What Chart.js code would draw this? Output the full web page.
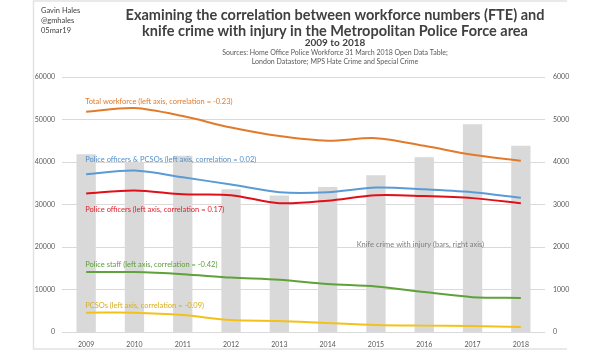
<!DOCTYPE html>
<html>
<head>
<meta charset="utf-8">
<script src="https://cdn.jsdelivr.net/npm/chart.js@4"></script>
<style>
  body { margin: 0; background: #fff; }
  #wrap { width: 600px; height: 350px; }
</style>
</head>
<body>
<div id="wrap"><canvas id="myChart" width="600" height="350"></canvas></div>
<script>
var years = ['2009', '2010', '2011', '2012', '2013', '2014', '2015', '2016', '2017', '2018'];
var knifeCrime = [4180, 4000, 4150, 3360, 3210, 3410, 3690, 4110, 4890, 4380];
var totalWorkforce = [51800, 52700, 50800, 48100, 46100, 45000, 45600, 43800, 41700, 40300];
var officersPcsos = [37100, 38000, 36400, 34700, 32900, 32900, 34000, 33600, 32900, 31600];
var officers = [32600, 33300, 32400, 32200, 30300, 30900, 32200, 32000, 31500, 30300];
var staff = [14100, 14100, 13600, 12800, 12300, 11300, 10700, 9400, 8200, 8000];
var pcsos = [4550, 4550, 4000, 2800, 2600, 2100, 1650, 1500, 1400, 1200];
var leftTicks = [0, 10000, 20000, 30000, 40000, 50000, 60000];
var rightTicks = [0, 1000, 2000, 3000, 4000, 5000, 6000];

var fontFam = "Lato, 'Open Sans', sans-serif";

// series labels drawn next to the lines (year index, left-axis value)
var seriesLabels = [
  { text: 'Total workforce (left axis, correlation = -0.23)', color: '#E27A2B', at: 0, val: 54300 },
  { text: 'Police officers & PCSOs (left axis, correlation = 0.02)', color: '#4F8FCB', at: 0, val: 40500 },
  { text: 'Police officers (left axis, correlation = 0.17)', color: '#E0202A', at: 0, val: 28700 },
  { text: 'Police staff (left axis, correlation = -0.42)', color: '#5C9E3A', at: 0, val: 15800 },
  { text: 'PCSOs (left axis, correlation = -0.09)', color: '#D9AE1A', at: 0, val: 6300 }
];

var textPlugin = {
  id: 'texts',
  afterDraw: function(chart) {
    var c = chart.ctx;
    c.save();
    // frame
    c.strokeStyle = '#e2e2e2';
    c.lineWidth = 1.5;
    c.beginPath();
    c.moveTo(567, 1); c.lineTo(33.5, 1); c.lineTo(33.5, 349); c.lineTo(567, 349);
    c.stroke();

    c.fillStyle = '#404040';
    c.textBaseline = 'middle';
    c.textAlign = 'left';
    c.font = '7.5px ' + fontFam;
    c.fillText('Gavin Hales', 41, 11);
    c.fillText('@gmhales', 41, 21);
    c.fillText('05mar19', 41, 31);

    c.textAlign = 'center';
    c.font = 'bold 14.5px ' + fontFam;
    c.fillText('Examining the correlation between workforce numbers (FTE) and', 335, 15);
    c.fillText('knife crime with injury in the Metropolitan Police Force area', 335, 31);
    c.font = 'bold 10px ' + fontFam;
    c.fillText('2009 to 2018', 335, 43);
    c.fillStyle = '#595959';
    c.font = '7px ' + fontFam;
    c.fillText('Sources: Home Office Police Workforce 31 March 2018 Open Data Table;', 335, 53);
    c.fillText('London Datastore; MPS Hate Crime and Special Crime', 335, 62);

    var xs = chart.scales.x, ys = chart.scales.y;
    c.textAlign = 'left';
    c.font = '7.5px ' + fontFam;
    seriesLabels.forEach(function(l) {
      c.fillStyle = l.color;
      c.fillText(l.text, xs.getPixelForValue(l.at) - 1, ys.getPixelForValue(l.val));
    });
    c.fillStyle = '#7f7f7f';
    c.fillText('Knife crime with injury (bars, right axis)', xs.getPixelForValue(5.6), chart.scales.y1.getPixelForValue(2050));
    c.restore();
  }
};

function lineSet(label, data, color) {
  return {
    type: 'line', label: label, data: data, yAxisID: 'y',
    borderColor: color, backgroundColor: color, borderWidth: 2,
    pointRadius: 0, tension: 0.3, order: 1
  };
}

function plain(v) { return String(v); }

var ctx = document.getElementById('myChart').getContext('2d');
var myChart = new Chart(ctx, {
  type: 'bar',
  data: {
    labels: years,
    datasets: [
      lineSet('Total workforce', totalWorkforce, '#E27A2B'),
      lineSet('Police officers & PCSOs', officersPcsos, '#5B9BD5'),
      lineSet('Police officers', officers, '#E0101A'),
      lineSet('Police staff', staff, '#5FA23A'),
      lineSet('PCSOs', pcsos, '#F2C21B'),
      {
        type: 'bar', label: 'Knife crime with injury', data: knifeCrime, yAxisID: 'y1',
        backgroundColor: '#D9D9D9', categoryPercentage: 1, barPercentage: 0.4, order: 10
      }
    ]
  },
  options: {
    responsive: false,
    animation: false,
    events: [],
    layout: { padding: { top: 77, left: 0, right: 0, bottom: 0 } },
    plugins: { legend: { display: false }, tooltip: { enabled: false } },
    scales: {
      x: {
        grid: { display: false },
        border: { display: false },
        ticks: { color: '#595959', font: { family: fontFam, size: 7 }, padding: 1, maxRotation: 0 },
        afterFit: function(s) { s.height = 18; }
      },
      y: {
        position: 'left', min: 0, max: 60000,
        afterBuildTicks: function(s) { s.ticks = leftTicks.map(function(v) { return { value: v }; }); },
        grid: { color: '#D9D9D9', drawTicks: false, lineWidth: 1 },
        border: { display: false },
        ticks: { color: '#595959', font: { family: fontFam, size: 7 }, padding: 7, callback: plain },
        afterFit: function(s) { s.width = 62; }
      },
      y1: {
        position: 'right', min: 0, max: 6000,
        afterBuildTicks: function(s) { s.ticks = rightTicks.map(function(v) { return { value: v }; }); },
        grid: { display: false, drawTicks: false },
        border: { display: false },
        ticks: { color: '#595959', font: { family: fontFam, size: 7 }, padding: 8, callback: plain },
        afterFit: function(s) { s.width = 55; }
      }
    }
  },
  plugins: [textPlugin]
});
</script>
</body>
</html>
